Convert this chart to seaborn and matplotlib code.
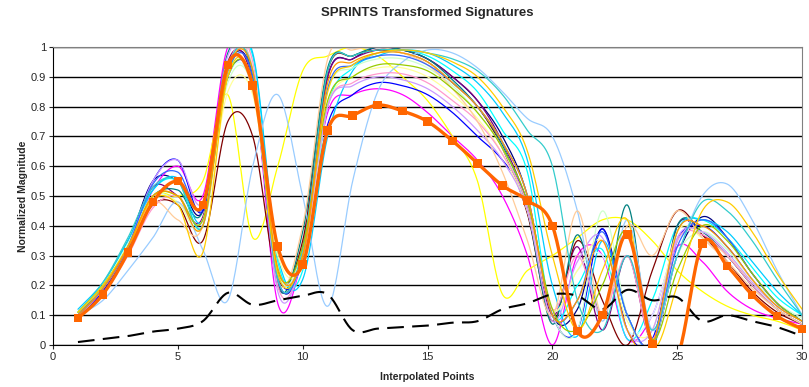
# SPRINTS transformed signatures - excel style smoothed line chart

import numpy as np
import pandas as pd
import matplotlib
matplotlib.use("Agg")
import matplotlib.pyplot as plt
import seaborn as sns

sns.set_style("white")
plt.rcParams['font.family'] = ['Liberation Sans', 'DejaVu Sans']

points = list(range(1, 31))

# thin signature series (excel default palette order)
navy = [0.10,0.19,0.34,0.55,0.55,0.45,0.93,0.90,0.22,0.30,0.90,0.96,1.00,0.99,0.96,0.90,0.82,0.70,0.50,0.10,0.12,0.39,0.10,0.00,0.30,0.43,0.36,0.24,0.14,0.08]
magenta = [0.09,0.18,0.32,0.52,0.60,0.50,1.00,0.90,0.14,0.30,0.78,0.84,0.86,0.84,0.78,0.70,0.62,0.50,0.30,0.00,0.30,0.30,0.02,0.10,0.33,0.28,0.18,0.12,0.09,0.07]
yellow = [0.11,0.19,0.32,0.50,0.50,0.55,0.84,0.36,0.60,0.92,0.97,1.00,0.97,0.90,0.82,0.70,0.55,0.17,0.25,0.30,0.36,0.42,0.42,0.35,0.25,0.18,0.13,0.10,0.08,0.05]
cyan = [0.11,0.20,0.34,0.52,0.55,0.40,0.90,0.97,0.28,0.25,0.80,0.93,0.98,0.99,0.97,0.92,0.85,0.72,0.58,0.10,0.20,0.32,0.02,0.15,0.40,0.42,0.36,0.26,0.16,0.10]
purple = [0.10,0.19,0.33,0.53,0.50,0.43,0.95,0.88,0.21,0.33,0.90,0.96,0.99,0.99,0.96,0.90,0.82,0.68,0.47,0.10,0.33,0.05,0.30,0.02,0.40,0.37,0.30,0.20,0.12,0.07]
dark_red = [0.09,0.17,0.31,0.47,0.47,0.35,0.75,0.70,0.22,0.35,0.92,0.97,0.99,0.98,0.95,0.88,0.80,0.66,0.44,0.08,0.35,0.15,0.00,0.25,0.45,0.37,0.28,0.18,0.11,0.07]
teal = [0.10,0.20,0.35,0.50,0.52,0.45,0.98,0.90,0.20,0.38,0.93,0.97,1.00,0.99,0.96,0.89,0.80,0.67,0.45,0.07,0.37,0.10,0.47,0.00,0.40,0.38,0.30,0.20,0.12,0.07]
blue = [0.09,0.18,0.32,0.55,0.62,0.45,0.90,0.88,0.24,0.28,0.74,0.84,0.88,0.87,0.84,0.78,0.70,0.62,0.48,0.10,0.05,0.39,0.05,0.02,0.35,0.40,0.33,0.22,0.13,0.08]
sky_blue = [0.12,0.21,0.35,0.52,0.56,0.42,0.92,0.98,0.30,0.22,0.70,0.92,0.97,0.99,0.98,0.94,0.88,0.78,0.62,0.20,0.03,0.35,0.10,0.00,0.38,0.42,0.38,0.28,0.18,0.10]
turquoise = [0.11,0.20,0.34,0.50,0.50,0.42,0.90,0.86,0.25,0.30,0.85,0.94,0.98,0.98,0.95,0.88,0.80,0.68,0.50,0.12,0.25,0.30,0.05,0.10,0.35,0.38,0.32,0.22,0.13,0.08]
light_green = [0.11,0.20,0.34,0.50,0.48,0.40,0.88,0.86,0.24,0.32,0.85,0.93,0.96,0.96,0.93,0.87,0.78,0.66,0.45,0.10,0.05,0.45,0.10,0.00,0.30,0.38,0.32,0.22,0.14,0.09]
light_yellow = [0.11,0.20,0.33,0.49,0.48,0.40,0.85,0.84,0.30,0.28,0.80,0.90,0.93,0.93,0.90,0.84,0.76,0.64,0.45,0.12,0.25,0.35,0.08,0.05,0.38,0.36,0.30,0.21,0.13,0.08]
pale_blue = [0.10,0.15,0.25,0.36,0.48,0.32,0.15,0.60,0.84,0.50,0.13,0.55,0.85,0.95,0.99,0.98,0.93,0.85,0.76,0.70,0.45,0.08,0.42,0.05,0.30,0.50,0.54,0.42,0.25,0.10]
rose = [0.09,0.17,0.30,0.46,0.50,0.42,0.93,0.95,0.20,0.30,0.80,0.88,0.91,0.91,0.88,0.82,0.75,0.64,0.47,0.12,0.30,0.10,0.30,0.02,0.35,0.37,0.30,0.20,0.12,0.07]
lavender = [0.10,0.19,0.33,0.55,0.62,0.48,0.97,0.92,0.18,0.30,0.80,0.87,0.90,0.89,0.86,0.80,0.72,0.62,0.45,0.08,0.28,0.36,0.05,0.05,0.36,0.38,0.31,0.21,0.13,0.08]
tan = [0.10,0.19,0.33,0.48,0.42,0.40,0.92,0.93,0.22,0.40,0.96,0.99,1.00,0.98,0.94,0.86,0.75,0.58,0.35,0.10,0.45,0.10,0.40,0.30,0.45,0.36,0.28,0.19,0.12,0.07]
light_blue = [0.10,0.19,0.33,0.54,0.58,0.46,0.92,0.90,0.22,0.30,0.86,0.94,0.97,0.97,0.94,0.88,0.80,0.68,0.50,0.10,0.15,0.38,0.10,0.00,0.33,0.42,0.36,0.24,0.14,0.08]
aqua = [0.11,0.21,0.36,0.53,0.55,0.40,0.93,0.92,0.22,0.32,0.92,0.97,0.99,0.99,0.98,0.96,0.92,0.84,0.72,0.60,0.15,0.05,0.30,0.05,0.30,0.48,0.45,0.35,0.22,0.10]
lime = [0.11,0.20,0.33,0.50,0.50,0.42,0.90,0.88,0.25,0.33,0.82,0.90,0.94,0.94,0.92,0.86,0.78,0.66,0.48,0.12,0.05,0.20,0.38,0.02,0.25,0.40,0.35,0.24,0.14,0.08]
gold = [0.11,0.20,0.33,0.49,0.47,0.31,0.90,0.88,0.24,0.30,0.85,0.94,0.98,0.99,0.98,0.95,0.90,0.80,0.65,0.30,0.05,0.25,0.42,0.00,0.20,0.45,0.48,0.38,0.24,0.12]
light_orange = [0.10,0.19,0.33,0.50,0.50,0.40,0.92,0.92,0.26,0.30,0.88,0.95,0.98,0.98,0.95,0.88,0.80,0.68,0.50,0.10,0.15,0.35,0.05,0.00,0.38,0.40,0.33,0.22,0.13,0.08]

# highlighted series (orange with squares) and the dashed black one
highlight = [0.09,0.17,0.31,0.48,0.55,0.47,0.94,0.87,0.33,0.27,0.72,0.77,0.805,0.785,0.75,0.685,0.61,0.535,0.485,0.40,0.047,0.10,0.37,0.003,-0.04,0.34,0.265,0.168,0.097,0.054]
dashed = [0.01,0.02,0.03,0.045,0.055,0.08,0.175,0.135,0.15,0.165,0.17,0.05,0.055,0.06,0.065,0.075,0.08,0.12,0.14,0.17,0.165,0.12,0.185,0.15,0.16,0.08,0.10,0.08,0.06,0.03]

thin = {
    "#000080": navy, "#FF00FF": magenta, "#FFFF00": yellow, "#00FFFF": cyan,
    "#800080": purple, "#800000": dark_red, "#008080": teal, "#0000FF": blue,
    "#00CCFF": sky_blue, "#CCFFFF": turquoise, "#CCFFCC": light_green,
    "#FFFF99": light_yellow, "#99CCFF": pale_blue, "#FF99CC": rose,
    "#CC99FF": lavender, "#FFCC99": tan, "#3366FF": light_blue,
    "#33CCCC": aqua, "#99CC00": lime, "#FFCC00": gold, "#FF9900": light_orange,
}


def smooth(xs, ys, n=24):
    # excel style bezier smoothing through the data points
    p = np.column_stack([xs, ys]).astype(float)
    pad = np.vstack([p[0], p, p[-1]])
    t = np.linspace(0, 1, n)[:, None]
    out = []
    for i in range(len(p) - 1):
        p0, p1, p2, p3 = pad[i], pad[i + 1], pad[i + 2], pad[i + 3]
        c1 = p1 + (p2 - p0) / 6
        c2 = p2 - (p3 - p1) / 6
        seg = ((1 - t) ** 3) * p1 + 3 * ((1 - t) ** 2) * t * c1 + 3 * (1 - t) * t ** 2 * c2 + t ** 3 * p2
        out.append(seg if i == 0 else seg[1:])
    seg = np.vstack(out)
    return seg[:, 0], seg[:, 1]


rows = []
for color, vals in thin.items():
    sx, sy = smooth(points, vals)
    rows.append(pd.DataFrame({"x": sx, "y": sy, "series": color}))
df = pd.concat(rows, ignore_index=True)

fig = plt.figure(figsize=(8.09, 3.87), dpi=100)
ax = fig.add_axes([0.0655, 0.1085, 0.926, 0.770])

sns.lineplot(data=df, x="x", y="y", hue="series", palette={c: c for c in thin},
             sort=False, estimator=None, lw=0.9, legend=False, ax=ax)

dx, dy = smooth(points, dashed)
sns.lineplot(x=dx, y=dy, sort=False, estimator=None, color="black", lw=1.5, ax=ax)
ax.lines[-1].set_linestyle((0, (8, 4)))

hx, hy = smooth(points, highlight)
sns.lineplot(x=hx, y=hy, sort=False, estimator=None, color="#FF6600", lw=2.4, ax=ax)
# excel leaves out markers that fall below the axis
shown = [(p, v) for p, v in zip(points, highlight) if v >= 0]
sns.scatterplot(x=[p for p, v in shown], y=[v for p, v in shown], marker="s", s=38,
                color="#FF6600", edgecolor="none", ax=ax, zorder=5, clip_on=False)

ax.set_xlim(0, 30)
ax.set_ylim(0, 1)
ax.set_xticks(range(0, 31, 5))
ax.set_yticks(np.round(np.arange(0, 1.01, 0.1), 1))
ax.set_yticklabels(["0"] + [f"{v:.1f}" for v in np.arange(0.1, 0.95, 0.1)] + ["1"])
ax.yaxis.grid(True, color="black", lw=1)
ax.set_axisbelow(True)
for side in ["top", "right"]:
    ax.spines[side].set_color("#808080")
for side in ["left", "bottom"]:
    ax.spines[side].set_color("black")
ax.tick_params(axis="both", labelsize=8, length=3, direction="out", left=True, bottom=True, pad=2)

ax.set_title("SPRINTS Transformed Signatures", fontsize=9.5, fontweight="bold", pad=22)
ax.set_xlabel("Interpolated Points", fontsize=7.5, fontweight="bold", labelpad=7)
ax.set_ylabel("Normalized Magnitude", fontsize=7.5, fontweight="bold", labelpad=2)

fig.savefig("out.png", dpi=100)
